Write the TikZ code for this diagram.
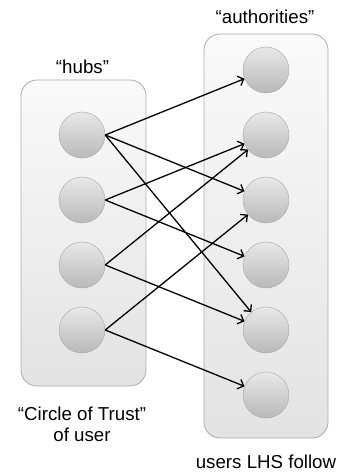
\documentclass[tikz,border=0pt]{standalone}
\usepackage{fontspec}
\usetikzlibrary{arrows.meta}
\setmainfont{Liberation Sans}

\begin{document}
\begin{tikzpicture}[x=1pt, y=-1pt, node distance=65pt]
  \tikzstyle{group} = [rectangle, draw=gray!65, line width=0.8pt, rounded corners=16pt,
                       shade, top color=gray!4, bottom color=gray!22]
  \tikzstyle{user} = [circle, draw=gray!70, minimum size=46pt, inner sep=0pt,
                      shade, top color=gray!18, bottom color=gray!55]
  \tikzstyle{link} = [-{Straight Barb[length=5pt, width=10pt]}, line width=1.3pt]
  \tikzstyle{caption} = [font=\fontsize{18.7}{21}\selectfont, align=center, inner sep=0pt]

\useasboundingbox (0,0) rectangle (341,473);
\node[group, minimum width=125pt, minimum height=306pt] (hubbox) at (83.5,233) {};
\node[group, minimum width=124pt, minimum height=404pt] (authbox) at (266,236) {};
\node[user] (h1) at (82,135) {};
\node[user, below of=h1] (h2) {};
\node[user, below of=h2] (h3) {};
\node[user, below of=h3] (h4) {};
\node[user] (a1) at (266,70) {};
\node[user, below of=a1] (a2) {};
\node[user, below of=a2] (a3) {};
\node[user, below of=a3] (a4) {};
\node[user, below of=a4] (a5) {};
\node[user, below of=a5] (a6) {};
\node[caption, anchor=base] (hubslbl) at (82.5,74) {“hubs”};
\node[caption, anchor=base] (authlbl) at (265,24) {“authorities”};
\node[caption] (trustlbl) at (82,424) {“Circle of Trust”\\of user};
\node[caption, anchor=base] (followlbl) at (266,468) {users LHS follow};
\draw[link] (h1.east) -- (a1);
\draw[link] (h1.east) -- (a3);
\draw[link] (h1.east) -- (a5);
\draw[link] (h2.east) -- (a2);
\draw[link] (h2.east) -- (a4);
\draw[link] (h3.east) -- (a2);
\draw[link] (h3.east) -- (a5);
\draw[link] (h4.east) -- (a3);
\draw[link] (h4.east) -- (a6);
\end{tikzpicture}
\end{document}
